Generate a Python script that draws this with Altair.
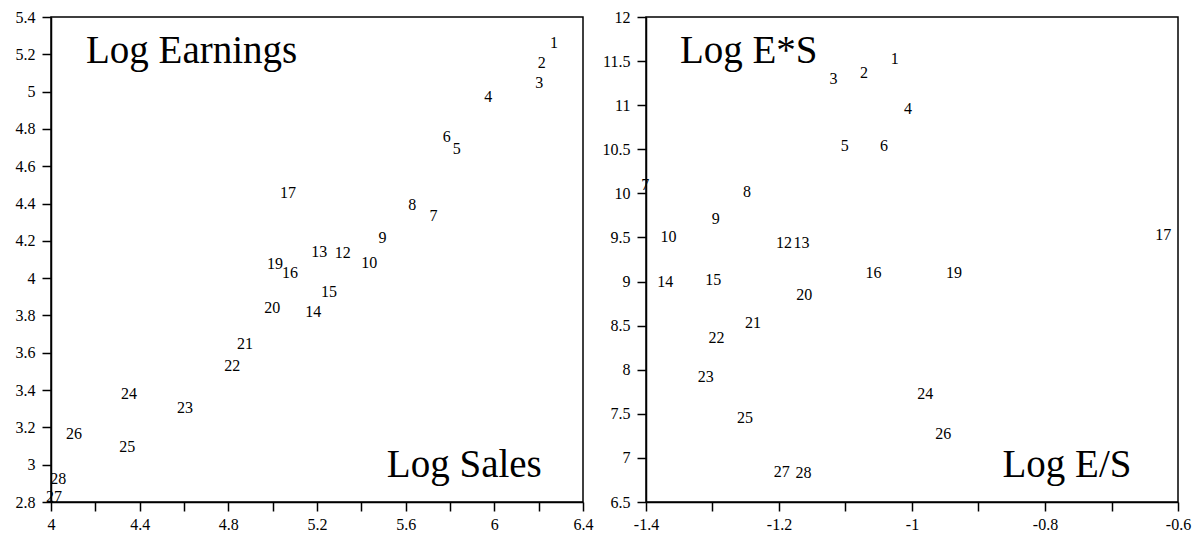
import altair as alt
import pandas as pd

# ---- Left panel: Log Sales (x) vs Log Earnings (y) ----
left_labels = ["1", "2", "3", "4", "5", "6", "7", "8", "9", "10", "12", "13", "14",
               "15", "16", "17", "19", "20", "21", "22", "23", "24", "25", "26", "27", "28"]
left_sales = [6.269, 6.214, 6.203, 5.973, 5.830, 5.785, 5.725, 5.630, 5.496, 5.436, 5.316, 5.210, 5.183,
              5.254, 5.078, 5.069, 5.011, 4.998, 4.875, 4.818, 4.605, 4.352, 4.344, 4.104, 4.014, 4.033]
left_earn = [5.261, 5.152, 5.044, 4.973, 4.692, 4.755, 4.333, 4.392, 4.213, 4.079, 4.133, 4.138, 3.820,
             3.927, 4.026, 4.456, 4.076, 3.841, 3.645, 3.530, 3.302, 3.377, 3.096, 3.162, 2.825, 2.923]

# ---- Right panel: Log E/S (x) vs Log E*S (y) ----
right_labels = ["1", "2", "3", "4", "5", "6", "7", "8", "9", "10", "12", "13", "14",
                "15", "16", "17", "19", "20", "21", "22", "23", "24", "25", "26", "27", "28"]
right_es_ratio = [-1.026, -1.072, -1.118, -1.006, -1.101, -1.042, -1.401, -1.248, -1.295, -1.366, -1.1925, -1.166, -1.371,
                  -1.299, -1.058, -0.622, -0.937, -1.162, -1.239, -1.294, -1.310, -0.980, -1.251, -0.953, -1.196, -1.163]
right_es_prod = [11.520, 11.369, 11.293, 10.953, 10.541, 10.541, 10.095, 10.019, 9.710, 9.509, 9.434, 9.434, 8.992,
                 9.018, 9.101, 9.528, 9.101, 8.848, 8.527, 8.357, 7.915, 7.726, 7.450, 7.272, 6.838, 6.826]

left_xticks = [4.0, 4.2, 4.4, 4.6, 4.8, 5.0, 5.2, 5.4, 5.6, 5.8, 6.0, 6.2, 6.4]
left_yticks = [2.8, 3.0, 3.2, 3.4, 3.6, 3.8, 4.0, 4.2, 4.4, 4.6, 4.8, 5.0, 5.2, 5.4]
right_xticks = [-1.4, -1.3, -1.2, -1.1, -1.0, -0.9, -0.8, -0.7, -0.6]
right_yticks = [6.5, 7.0, 7.5, 8.0, 8.5, 9.0, 9.5, 10.0, 10.5, 11.0, 11.5, 12.0]

FONT = "Liberation Serif"
W, H = 532, 485

left_df = pd.DataFrame({"label": left_labels, "x": left_sales, "y": left_earn})
right_df = pd.DataFrame({"label": right_labels, "x": right_es_ratio, "y": right_es_prod})


def ax(values, expr, pad):
    return alt.Axis(values=values, labelExpr=expr, labelOverlap=False, labelFlush=False,
                    labelFont=FONT, labelFontSize=16, labelColor="black", labelPadding=pad,
                    grid=False, domainColor="black", domainWidth=1.5,
                    tickColor="black", tickSize=9, tickWidth=1.5, title=None)


def panel(df, xdom, ydom, xticks, yticks, xlabel_expr, ylabel_expr, tl_text, tl_pos, br_text, br_pos):
    xs = alt.Scale(domain=xdom, nice=False, zero=False)
    ys = alt.Scale(domain=ydom, nice=False, zero=False)
    xax = ax(xticks, xlabel_expr, 5)
    yax = ax(yticks, ylabel_expr, 7)
    pts = alt.Chart(df).mark_text(font=FONT, fontSize=16, color="black",
                                  align="center", baseline="middle").encode(
        x=alt.X("x:Q", scale=xs, axis=xax),
        y=alt.Y("y:Q", scale=ys, axis=yax),
        text="label:N",
    )
    tl = alt.Chart().mark_text(font=FONT, fontSize=39, color="black",
                               align="left", baseline="alphabetic").encode(
        x=alt.XDatum(tl_pos[0], type="quantitative", scale=xs, axis=xax),
        y=alt.YDatum(tl_pos[1], type="quantitative", scale=ys, axis=yax),
        text=alt.value(tl_text))
    br = alt.Chart().mark_text(font=FONT, fontSize=39, color="black",
                               align="right", baseline="alphabetic").encode(
        x=alt.XDatum(br_pos[0], type="quantitative", scale=xs, axis=xax),
        y=alt.YDatum(br_pos[1], type="quantitative", scale=ys, axis=yax),
        text=alt.value(br_text))
    return alt.layer(pts, tl, br).properties(width=W, height=H)


left = panel(left_df, [4.0, 6.4], [2.8, 5.4], left_xticks, left_yticks,
             "round(datum.value*10) % 4 == 0 ? toString(datum.value) : ''",
             "toString(datum.value)",
             "Log Earnings", (4.158, 5.152), "Log Sales", (6.214, 2.935))
right = panel(right_df, [-1.4, -0.6], [6.5, 12.0], right_xticks, right_yticks,
              "abs(round(datum.value*10)) % 2 == 0 ? toString(datum.value) : ''",
              "toString(datum.value)",
              "Log E*S", (-1.349, 11.475), "Log E/S", (-0.670, 6.788))

chart = alt.hconcat(left, right, spacing=63, bounds="flush").properties(
    padding={"left": 14, "top": 8, "right": 5, "bottom": 5}
).configure_view(
    stroke="black", strokeWidth=1.5
)

chart.save("out.html", embed_options={"renderer": "svg", "actions": False})
